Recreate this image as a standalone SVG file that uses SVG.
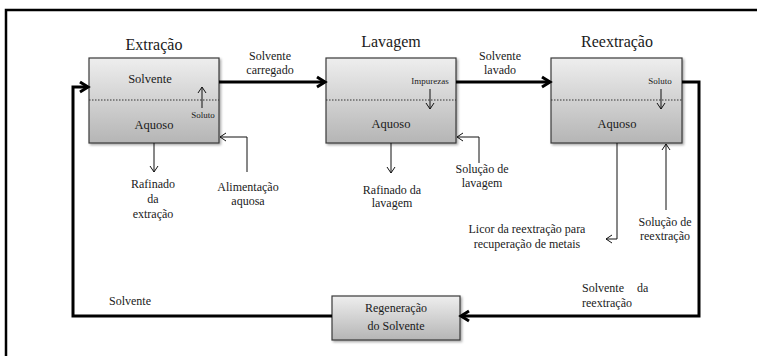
<svg xmlns="http://www.w3.org/2000/svg" width="757" height="356" viewBox="0 0 757 356" font-family="'Liberation Serif', 'Times New Roman', Tinos, 'DejaVu Serif', serif">
<style>
text{font-family:'Liberation Serif','Times New Roman',Tinos,'DejaVu Serif',serif;fill:#1a1a1a}
.t{font-size:16px;text-anchor:middle}
.m{font-size:12.5px;text-anchor:middle}
.l{font-size:12px;text-anchor:middle}
.ls{font-size:12px}
.s{font-size:9px;text-anchor:middle}
.box{fill:url(#g);stroke:#3a3a3a;stroke-width:1.2;filter:url(#sh)}
.dot{stroke:#333;stroke-width:1.2;stroke-dasharray:1.5 1.5}
.thin{fill:none;stroke:#111;stroke-width:1;marker-end:url(#ah)}
.thick{fill:none;stroke:#000;stroke-width:3;marker-end:url(#ahb)}
</style>
<defs>
<linearGradient id="g" x1="0" y1="0" x2="0" y2="1">
<stop offset="0" stop-color="#eeeeee"/>
<stop offset="1" stop-color="#b5b5b5"/>
</linearGradient>
<filter id="sh" x="-10%" y="-10%" width="130%" height="130%">
<feDropShadow dx="1.5" dy="1.5" stdDeviation="1.2" flood-color="#000" flood-opacity="0.35"/>
</filter>
<marker id="ah" markerWidth="10" markerHeight="10" refX="8" refY="5" orient="auto" markerUnits="userSpaceOnUse">
<path d="M2,1 L8,5 L2,9" fill="none" stroke="#111" stroke-width="1"/>
</marker>
<marker id="ahb" markerWidth="14" markerHeight="14" refX="11" refY="7" orient="auto" markerUnits="userSpaceOnUse">
<path d="M3,2 L11,7 L3,12" fill="none" stroke="#000" stroke-width="3"/>
</marker>
</defs>
<path d="M6,356 V10 H757" fill="none" stroke="#000" stroke-width="2.5"/>

<g id="extracao">
<text class="t" x="154" y="50">Extração</text>
<rect class="box" x="89" y="58" width="130" height="85"/>
<line class="dot" x1="89" y1="100" x2="219" y2="100"/>
<text class="m" x="150" y="83">Solvente</text>
<text class="m" x="154" y="129">Aquoso</text>
<text class="s" x="203" y="118">Soluto</text>
<path class="thin" d="M202,108 V87"/>
</g>

<g id="lavagem">
<text class="t" x="391" y="47">Lavagem</text>
<rect class="box" x="326" y="58" width="130" height="85"/>
<line class="dot" x1="326" y1="100" x2="456" y2="100"/>
<text class="s" x="430" y="84">Impurezas</text>
<text class="m" x="391" y="128">Aquoso</text>
<path class="thin" d="M430,89 V109"/>
</g>

<g id="reextracao">
<text class="t" x="617" y="47">Reextração</text>
<rect class="box" x="551" y="58" width="131" height="85"/>
<line class="dot" x1="551" y1="100" x2="682" y2="100"/>
<text class="s" x="660" y="84">Soluto</text>
<text class="m" x="617" y="128">Aquoso</text>
<path class="thin" d="M661,89 V109"/>
</g>

<g id="regeneracao">
<rect class="box" x="332" y="296" width="128" height="44"/>
<text class="l" x="396" y="312">Regeneração</text>
<text class="l" x="396" y="330">do Solvente</text>
</g>

<g id="connectors">
<path class="thick" d="M219,82 H325"/>
<path class="thick" d="M456,82 H550"/>
<path class="thick" d="M682,82 H699 V316 H461"/>
<path class="thick" d="M332,316 H73 V87 H88"/>
<path class="thin" d="M154,143 V172"/>
<path class="thin" d="M247,172 V137 H220"/>
<path class="thin" d="M391,143 V173"/>
<path class="thin" d="M479,163 V137 H457"/>
<path class="thin" d="M617,143 V239 H606"/>
<path class="thin" d="M666,210 V144"/>
</g>

<g id="labels">
<text class="l" x="270" y="60">Solvente</text>
<text class="l" x="270" y="74">carregado</text>
<text class="l" x="500" y="60">Solvente</text>
<text class="l" x="500" y="74">lavado</text>
<text class="l" x="153" y="188">Rafinado</text>
<text class="l" x="153" y="203">da</text>
<text class="l" x="153" y="218">extração</text>
<text class="l" x="248" y="191">Alimentação</text>
<text class="l" x="248" y="205">aquosa</text>
<text class="l" x="392" y="194">Rafinado da</text>
<text class="l" x="392" y="207">lavagem</text>
<text class="l" x="482" y="173">Solução de</text>
<text class="l" x="482" y="187">lavagem</text>
<text class="l" x="527" y="233">Licor da reextração para</text>
<text class="l" x="527" y="248">recuperação de metais</text>
<text class="l" x="665" y="226">Solução de</text>
<text class="l" x="665" y="240">reextração</text>
<text class="ls" x="582" y="292">Solvente</text>
<text class="ls" x="637" y="292">da</text>
<text class="ls" x="582" y="307">reextração</text>
<text class="l" x="130" y="305">Solvente</text>
</g>
</svg>
